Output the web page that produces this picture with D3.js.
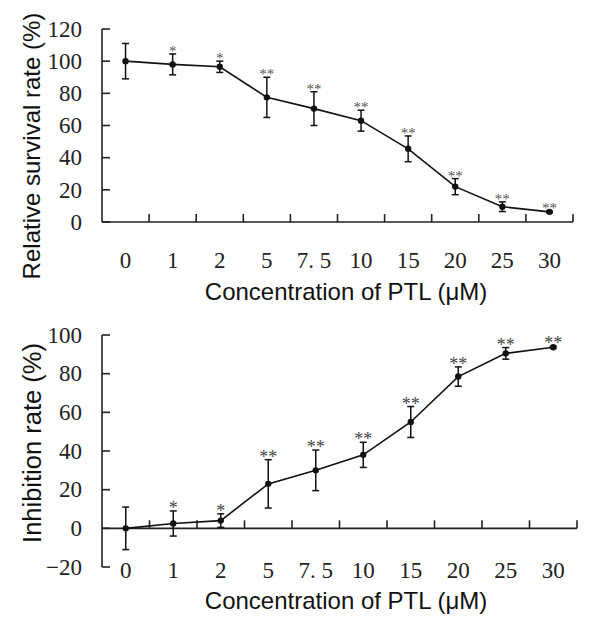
<!DOCTYPE html>
<html>
<head>
<meta charset="utf-8">
<script src="https://cdn.jsdelivr.net/npm/d3@7"></script>
<style>
  html, body { margin: 0; padding: 0; background: #fff; }
  svg { display: block; }
</style>
</head>
<body>
<svg id="chart" width="600" height="619"></svg>
<script>
// ---- data ----
const concentrations = ["0", "1", "2", "5", "7. 5", "10", "15", "20", "25", "30"];
const survival      = [100, 98, 96.5, 77.5, 70.5, 63, 45.5, 22, 9.5, 6.3];
const survivalErr   = [11, 6.5, 3.5, 12.5, 10.5, 6.5, 8, 5, 3, 0.5];
const inhibition    = [0, 2.5, 4, 23, 30, 38, 55, 78.5, 90.5, 93.7];
const inhibitionErr = [11, 6.5, 3.5, 12.5, 10.5, 6.5, 8, 5, 3, 0.5];
const significance  = ["", "*", "*", "**", "**", "**", "**", "**", "**", "**"];
const survivalTicks   = [0, 20, 40, 60, 80, 100, 120];
const inhibitionTicks = [-20, 0, 20, 40, 60, 80, 100];

const svg = d3.select("#chart");
const serif = "'Liberation Serif', 'Times New Roman', serif";
const sans = "'Liberation Sans', Arial, sans-serif";

function panel(opts) {
  const g = svg.append("g");
  const x = d3.scaleBand().domain(concentrations).range([opts.x0, opts.x1]).padding(0);
  const y = d3.scaleLinear().domain(opts.domain).range([opts.yBottom, opts.yTop]);
  const y0 = y(opts.xAxisAt);

  // y axis line
  g.append("line").attr("x1", opts.x0).attr("x2", opts.x0)
    .attr("y1", y(opts.domain[0])).attr("y2", y(opts.domain[1]))
    .attr("stroke", "#222").attr("stroke-width", 1.6);
  // y ticks (inward)
  g.selectAll(".yt").data(opts.yTicks).enter().append("line")
    .attr("x1", opts.x0).attr("x2", opts.x0 + 8)
    .attr("y1", d => y(d)).attr("y2", d => y(d))
    .attr("stroke", "#222").attr("stroke-width", 1.6);
  g.selectAll(".yl").data(opts.yTicks).enter().append("text")
    .attr("x", opts.x0 - 20).attr("y", d => y(d)).attr("dy", "0.34em")
    .attr("text-anchor", "end").attr("font-family", serif).attr("font-size", 23)
    .attr("fill", "#222")
    .text(d => d < 0 ? "\u2212" + Math.abs(d) : d);

  // x axis line
  g.append("line").attr("x1", opts.x0).attr("x2", opts.x1)
    .attr("y1", y0).attr("y2", y0)
    .attr("stroke", "#222").attr("stroke-width", 1.6);
  // x ticks at band boundaries (upward)
  const bounds = concentrations.map(c => x(c) + x.bandwidth());
  g.selectAll(".xt").data(bounds).enter().append("line")
    .attr("x1", d => d).attr("x2", d => d)
    .attr("y1", y0).attr("y2", y0 - 8)
    .attr("stroke", "#222").attr("stroke-width", 1.6);
  // x labels
  g.selectAll(".xl").data(concentrations).enter().append("text")
    .attr("x", d => x(d) + x.bandwidth() / 2).attr("y", opts.xLabelY).attr("dy", "0.34em")
    .attr("text-anchor", "middle").attr("font-family", serif).attr("font-size", 23)
    .attr("fill", "#222").text(d => d);

  // axis titles
  g.append("text").attr("x", opts.xTitleX).attr("y", opts.xTitleY)
    .attr("text-anchor", "middle").attr("font-family", sans).attr("font-size", 24)
    .attr("fill", "#111").text("Concentration of PTL (\u03bcM)");
  g.append("text")
    .attr("transform", `translate(${opts.yTitleX},${opts.yTitleY}) rotate(-90)`)
    .attr("text-anchor", "middle").attr("font-family", sans).attr("font-size", opts.yTitleSize)
    .attr("fill", "#111").text(opts.yTitle);

  const cx = d => x(d) + x.bandwidth() / 2;
  const pts = concentrations.map((c, i) => ({ c, v: opts.values[i], e: opts.errors[i], s: significance[i] }));

  // line
  g.append("path").datum(pts)
    .attr("d", d3.line().x(d => cx(d.c)).y(d => y(d.v)))
    .attr("fill", "none").attr("stroke", "#111").attr("stroke-width", 1.6);

  // error bars
  const eb = g.selectAll(".eb").data(pts).enter().append("g");
  eb.append("line").attr("x1", d => cx(d.c)).attr("x2", d => cx(d.c))
    .attr("y1", d => y(d.v - d.e)).attr("y2", d => y(d.v + d.e))
    .attr("stroke", "#111").attr("stroke-width", 1.5);
  eb.append("line").attr("x1", d => cx(d.c) - 3.5).attr("x2", d => cx(d.c) + 3.5)
    .attr("y1", d => y(d.v + d.e)).attr("y2", d => y(d.v + d.e))
    .attr("stroke", "#111").attr("stroke-width", 1.5);
  eb.append("line").attr("x1", d => cx(d.c) - 3.5).attr("x2", d => cx(d.c) + 3.5)
    .attr("y1", d => y(d.v - d.e)).attr("y2", d => y(d.v - d.e))
    .attr("stroke", "#111").attr("stroke-width", 1.5);

  // points
  g.selectAll(".pt").data(pts).enter().append("circle")
    .attr("cx", d => cx(d.c)).attr("cy", d => y(d.v)).attr("r", 3.2)
    .attr("fill", "#111");

  // significance stars
  g.selectAll(".st").data(pts.filter(d => d.s)).enter().append("text")
    .attr("x", d => cx(d.c)).attr("y", d => y(d.v + d.e) + opts.starDy)
    .attr("text-anchor", "middle").attr("font-family", serif)
    .attr("font-size", opts.starSize).attr("fill", opts.starColor)
    .text(d => d.s);
}

panel({
  x0: 102, x1: 573, yTop: 29, yBottom: 222, domain: [0, 120], xAxisAt: 0,
  yTicks: survivalTicks, values: survival, errors: survivalErr,
  xLabelY: 260, xTitleX: 346, xTitleY: 300, yTitleX: 40, yTitleY: 146, yTitleSize: 24,
  yTitle: "Relative survival rate (%)", starDy: 2, starSize: 15, starColor: "#555"
});

panel({
  x0: 102, x1: 577, yTop: 335, yBottom: 567, domain: [-20, 100], xAxisAt: 0,
  yTicks: inhibitionTicks, values: inhibition, errors: inhibitionErr,
  xLabelY: 570, xTitleX: 346, xTitleY: 609, yTitleX: 41, yTitleY: 443, yTitleSize: 25.5,
  yTitle: "Inhibition rate (%)", starDy: 3, starSize: 18, starColor: "#444"
});
</script>
</body>
</html>
